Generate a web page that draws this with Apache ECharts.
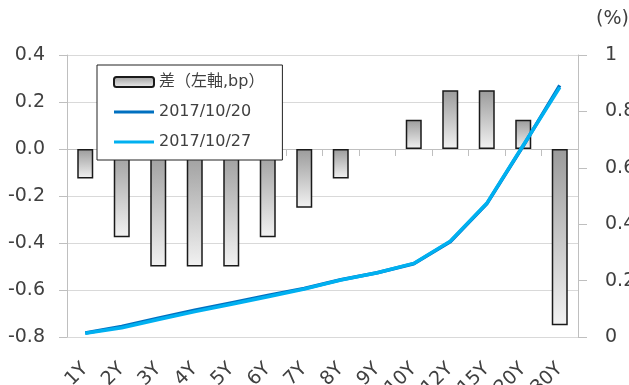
<!DOCTYPE html>
<html>
<head>
<meta charset="utf-8">
<script src="https://cdn.jsdelivr.net/npm/echarts@6/dist/echarts.min.js"></script>
<style>
  html, body { margin: 0; padding: 0; background: #fff; }
  #chart { width: 629px; height: 385px; }
</style>
</head>
<body>
<div id="chart"></div>
<script>
var categories = ['1Y', '2Y', '3Y', '4Y', '5Y', '6Y', '7Y', '8Y', '9Y', '10Y', '12Y', '15Y', '20Y', '30Y']
// 差（左軸,bp）
var diffValues = [-0.125, -0.375, -0.5, -0.5, -0.5, -0.375, -0.25, -0.125, 0, 0.125, 0.25, 0.25, 0.125, -0.75]
// yields (%), right axis
var yield1020 = [0.014, 0.037, 0.067, 0.095, 0.121, 0.147, 0.172, 0.203, 0.228, 0.260, 0.338, 0.472, 0.678, 0.892]
var yield1027 = [0.013, 0.033, 0.062, 0.090, 0.116, 0.143, 0.170, 0.202, 0.228, 0.261, 0.340, 0.474, 0.680, 0.885]

var fontFamily = '"DejaVu Sans", "Noto Sans CJK JP", sans-serif'
var textColor = '#404040'
var lineIcon = 'path://M0,0H40V3.2H0Z'

var chart = echarts.init(document.getElementById('chart'))

var barFill = new echarts.graphic.LinearGradient(0, 0, 0, 1, [
  { offset: 0, color: '#9b9b9b' },
  { offset: 1, color: '#f2f2f2' }
])

// a zero-height bar is not drawn in the original
var barData = diffValues.map(function (v) {
  return v === 0 ? { value: v, itemStyle: { borderWidth: 0 } } : v
})

var option = {
  animation: false,
  textStyle: { fontFamily: fontFamily },
  grid: {
    top: 55,
    left: 67,
    right: 51,
    bottom: 48,
    outerBoundsMode: 'none'
  },
  legend: {
    orient: 'vertical',
    left: 97,
    top: 65,
    padding: [9, 18, 10, 16],
    itemGap: 14,
    itemWidth: 40,
    itemHeight: 10,
    backgroundColor: '#fff',
    borderColor: '#222',
    borderWidth: 1,
    textStyle: { fontSize: 16, color: textColor, fontFamily: fontFamily },
    data: [
      { name: '差（左軸,bp）' },
      { name: '2017/10/20', icon: lineIcon },
      { name: '2017/10/27', icon: lineIcon }
    ]
  },
  xAxis: [
    {
      type: 'category',
      data: categories,
      axisLine: { onZero: true, lineStyle: { color: '#bfbfbf', width: 1 } },
      axisTick: { show: true, length: 7, lineStyle: { color: '#bfbfbf' } },
      axisLabel: { show: false },
      splitLine: { show: false }
    },
    {
      type: 'category',
      data: categories,
      position: 'bottom',
      axisLine: { show: false },
      axisTick: { show: false },
      axisLabel: {
        rotate: 45,
        margin: 29,
        fontSize: 19,
        color: textColor,
        interval: 0
      }
    }
  ],
  yAxis: [
    {
      type: 'value',
      min: -0.8,
      max: 0.4,
      interval: 0.2,
      axisLine: { show: true, lineStyle: { color: '#bfbfbf' } },
      axisTick: { show: true, length: 8, lineStyle: { color: '#bfbfbf' } },
      axisLabel: {
        fontSize: 19,
        color: textColor,
        margin: 22,
        formatter: function (v) { return v.toFixed(1) }
      },
      splitLine: { lineStyle: { color: '#d9d9d9', width: 1 } }
    },
    {
      type: 'value',
      min: 0,
      max: 1,
      interval: 0.2,
      name: '(%)',
      nameLocation: 'end',
      nameGap: 26,
      nameTextStyle: { fontSize: 19, color: textColor, align: 'left', padding: [0, 0, 0, 18] },
      axisLine: { show: true, lineStyle: { color: '#bfbfbf' } },
      axisTick: { show: true, length: 9, lineStyle: { color: '#bfbfbf' } },
      axisLabel: {
        fontSize: 19,
        color: textColor,
        margin: 27,
        formatter: function (v) { return String(Math.round(v * 10) / 10) }
      },
      splitLine: { show: false }
    }
  ],
  series: [
    {
      name: '差（左軸,bp）',
      type: 'bar',
      xAxisIndex: 0,
      yAxisIndex: 0,
      barWidth: 16,
      data: barData,
      itemStyle: {
        color: barFill,
        borderColor: '#1a1a1a',
        borderWidth: 1.5
      }
    },
    {
      name: '2017/10/20',
      type: 'line',
      xAxisIndex: 0,
      yAxisIndex: 1,
      symbol: 'none',
      data: yield1020,
      itemStyle: { color: '#0070c0' },
      lineStyle: { color: '#0070c0', width: 3.5 }
    },
    {
      name: '2017/10/27',
      type: 'line',
      xAxisIndex: 0,
      yAxisIndex: 1,
      symbol: 'none',
      data: yield1027,
      itemStyle: { color: '#00b0f0' },
      lineStyle: { color: '#00b0f0', width: 3.5 }
    }
  ]
}

chart.setOption(option)
</script>
</body>
</html>
